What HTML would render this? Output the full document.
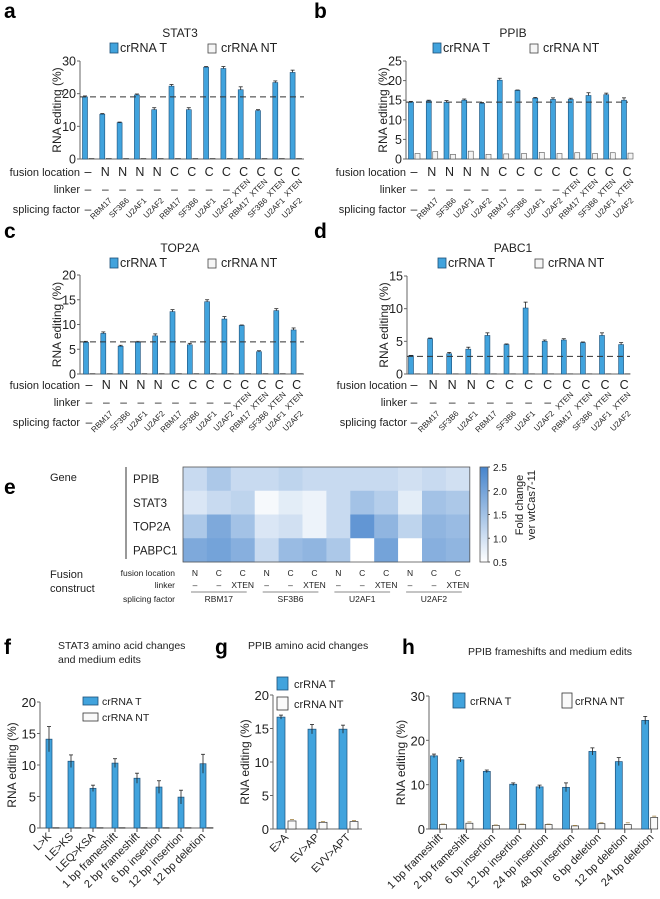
<!DOCTYPE html>
<html><head><meta charset="utf-8">
<style>
html,body{margin:0;padding:0;background:#fff;}
svg{display:block;font-family:"Liberation Sans",sans-serif;}
</style></head>
<body>
<svg id="fig" width="660" height="899" viewBox="0 0 660 899" xmlns="http://www.w3.org/2000/svg"></svg>
<script>
// ---------- data ----------
const fusion13 = ['–','N','N','N','N','C','C','C','C','C','C','C','C'];
const linker13 = ['–','–','–','–','–','–','–','–','–','XTEN','XTEN','XTEN','XTEN'];
const splice13 = ['–','RBM17','SF3B6','U2AF1','U2AF2','RBM17','SF3B6','U2AF1','U2AF2','RBM17','SF3B6','U2AF1','U2AF2'];
const fusion12 = ['–','N','N','N','C','C','C','C','C','C','C','C'];
const linker12 = ['–','–','–','–','–','–','–','–','XTEN','XTEN','XTEN','XTEN'];
const splice12 = ['–','RBM17','SF3B6','U2AF1','RBM17','SF3B6','U2AF1','U2AF2','RBM17','SF3B6','U2AF1','U2AF2'];

const stat3T  = [19,13.7,11.1,19.6,15.1,22.3,15.1,28.1,27.7,21.2,14.8,23.4,26.5];
const stat3NT = [0.2,0.2,0.2,0.2,0.2,0.2,0.2,0.2,0.2,0.2,0.2,0.2,0.2];
const stat3Err = [0.3,0.2,0.2,0.3,0.6,0.5,0.6,0.2,0.6,0.9,0.3,0.5,0.7];
const stat3Ticks = [0,10,20,30];
const stat3Ref = 19;

const ppibT  = [14.5,14.8,14.5,15,14.2,20.1,17.5,15.5,15.2,15.2,16.2,16.4,15];
const ppibNT = [1.4,1.9,1.2,2.0,1.2,1.3,1.4,1.7,1.4,1.6,1.4,1.6,1.5];
const ppibErr = [0.2,0.2,0.4,0.3,0.2,0.5,0.1,0.2,0.4,0.3,0.7,0.4,0.6];
const ppibTicks = [0,5,10,15,20,25];
const ppibRef = 14.5;

const top2aT  = [6.4,8.2,5.6,6.4,7.7,12.6,5.9,14.6,11.1,9.8,4.5,12.8,8.9];
const top2aNT = [0.1,0.1,0.1,0.1,0.1,0.1,0.1,0.1,0.1,0.1,0.1,0.1,0.1];
const top2aErr = [0.2,0.3,0.2,0.2,0.4,0.4,0.3,0.4,0.5,0.1,0.2,0.4,0.4];
const top2aTicks = [0,5,10,15,20];
const top2aRef = 6.5;

const pabc1T  = [2.8,5.4,3.1,3.8,5.9,4.5,10.1,5.0,5.2,4.8,5.9,4.5];
const pabc1NT = [0.05,0.05,0.05,0.05,0.05,0.05,0.05,0.05,0.05,0.05,0.05,0.05];
const pabc1Err = [0.05,0.1,0.2,0.3,0.4,0.1,0.9,0.2,0.2,0.1,0.4,0.3];
const pabc1Ticks = [0,5,10,15];
const pabc1Ref = 2.7;

const heatGenes = ['PPIB','STAT3','TOP2A','PABPC1'];
const heatLoc = ['N','C','C','N','C','C','N','C','C','N','C','C'];
const heatLinker = ['–','–','XTEN','–','–','XTEN','–','–','XTEN','–','–','XTEN'];
const heatGroups = ['RBM17','SF3B6','U2AF1','U2AF2'];
const heatPPIB   = [1.1,1.4,1.1,1.1,1.2,1.1,1.1,1.1,1.1,1.0,1.1,1.0];
const heatSTAT3  = [0.9,1.1,1.2,0.6,0.8,0.7,1.1,1.5,1.3,0.8,1.5,1.4];
const heatTOP2A  = [1.4,1.9,1.5,0.9,1.0,0.7,1.1,2.2,1.7,1.2,1.7,1.6];
const heatPABPC1 = [1.9,2.0,1.8,1.1,1.6,1.7,1.4,0.5,2.0,0.5,1.8,1.7];
const heatTicks = [0.5,1.0,1.5,2.0,2.5];

const fCats = ['L>K','LE>KS','LEQ>KSA','1 bp frameshift','2 bp frameshift','6 bp insertion','12 bp insertion','12 bp deletion'];
const fT  = [14.1,10.6,6.3,10.3,7.9,6.5,4.9,10.2];
const fNT = [0.05,0.05,0.05,0.05,0.05,0.05,0.05,0.05];
const fErr = [2.0,1.0,0.5,0.7,0.8,1.0,1.1,1.5];
const fTicks = [0,5,10,15,20];

const gCats = ['E>A','EV>AP','EVV>APT'];
const gT  = [16.7,14.9,14.9];
const gNT = [1.2,1.0,1.1];
const gErrT = [0.3,0.7,0.6];
const gErrNT = [0.2,0.1,0.15];
const gTicks = [0,5,10,15,20];

const hCats = ['1 bp frameshift','2 bp frameshift','6 bp insertion','12 bp insertion','24 bp insertion','48 bp insertion','6 bp deletion','12 bp deletion','24 bp deletion'];
const hT  = [16.5,15.6,13.0,10.1,9.5,9.4,17.5,15.2,24.5];
const hNT = [1.0,1.3,0.8,1.0,1.0,0.7,1.2,1.0,2.6];
const hErrT = [0.4,0.5,0.3,0.3,0.4,1.0,0.8,0.9,0.9];
const hErrNT = [0.1,0.3,0.1,0.1,0.1,0.1,0.2,0.4,0.3];
const hTicks = [0,10,20,30];

// ---------- helpers ----------
const NS = 'http://www.w3.org/2000/svg';
const svg = document.getElementById('fig');
const BLUE = '#41a3dd', BSTROKE = '#1d4f78';
function el(parent, tag, attrs, name) {
  const e = document.createElementNS(NS, tag);
  for (const k in attrs) e.setAttribute(k, attrs[k]);
  
  
  parent.appendChild(e);
  return e;
}
function txt(parent, x, y, s, size, name, extra) {
  const a = Object.assign({x: x, y: y, 'font-size': size, fill: '#222'}, extra || {});
  const t = el(parent, 'text', a, name);
  t.textContent = s;
  return t;
}
function grp(name) { return el(svg, 'g', {}, name); }

// ---------- panels a-d ----------
function barPanel(p) {
  const g = grp(p.name);
  const yS = v => p.yBot - (v / p.max) * (p.yBot - p.yTop);
  const xS = i => p.x0 + i * p.step;
  txt(g, p.lx, p.ly, p.letter, 21, 'panel-letter', {'font-weight': 'bold', fill: '#000'});
  txt(g, p.titleX, p.titleY, p.title, 12, 'chart-title', {'text-anchor': 'middle'});
  el(g, 'rect', {x: p.legX1, y: p.titleY + 6, width: 8, height: 10, fill: BLUE, stroke: BSTROKE, 'stroke-width': 0.8}, 'legend-swatch-t');
  txt(g, p.legX1 + 10, p.titleY + 15, 'crRNA T', 12.5, 'legend-label-t');
  el(g, 'rect', {x: p.legX2, y: p.titleY + 7, width: 8, height: 9, fill: '#f6f6f6', stroke: '#444', 'stroke-width': 0.8}, 'legend-swatch-nt');
  txt(g, p.legX2 + 13, p.titleY + 15, 'crRNA NT', 12.5, 'legend-label-nt');
  el(g, 'line', {x1: p.axisX, y1: p.yTop, x2: p.axisX, y2: p.yBot, stroke: '#666', 'stroke-width': 1}, 'y-axis');
  el(g, 'line', {x1: p.axisX, y1: p.yBot, x2: p.xEnd, y2: p.yBot, stroke: '#666', 'stroke-width': 1}, 'x-axis');
  p.ticks.forEach(v => {
    el(g, 'line', {x1: p.axisX - 3, y1: yS(v), x2: p.axisX, y2: yS(v), stroke: '#666'}, 'y-tick');
    txt(g, p.axisX - 4, yS(v) + 4.5, String(v), 12.5, 'y-tick-label', {'text-anchor': 'end'});
  });
  const midY = (p.yTop + p.yBot) / 2;
  txt(g, 0, 0, 'RNA editing (%)', 12, 'y-axis-title', {'text-anchor': 'middle', transform: `translate(${p.axisX - 19},${midY}) rotate(-90)`});
  p.T.forEach((v, i) => {
    const cx = xS(i);
    el(g, 'rect', {x: cx - 2.5, y: yS(v), width: 5, height: p.yBot - yS(v), fill: BLUE, stroke: BSTROKE, 'stroke-width': 0.6}, 'bar-crrna-t');
    el(g, 'line', {x1: cx, y1: yS(v + p.err[i]), x2: cx, y2: yS(v), stroke: '#222', 'stroke-width': 0.8}, 'error-bar');
    el(g, 'line', {x1: cx - 2, y1: yS(v + p.err[i]), x2: cx + 2, y2: yS(v + p.err[i]), stroke: '#222', 'stroke-width': 0.8}, 'error-cap');
    const nv = p.NT[i];
    el(g, 'rect', {x: cx + 4, y: yS(nv), width: 5, height: Math.max(0.5, p.yBot - yS(nv)), fill: '#f4f4f4', stroke: '#555', 'stroke-width': 0.6}, 'bar-crrna-nt');
  });
  el(g, 'line', {x1: p.axisX, y1: yS(p.ref), x2: p.xEnd, y2: yS(p.ref), stroke: '#333', 'stroke-width': 1, 'stroke-dasharray': '6,4'}, 'reference-dashed-line');
  const labX = p.axisX;
  txt(g, labX, p.r1, 'fusion location', 11, 'row-label-fusion-location', {'text-anchor': 'end'});
  txt(g, labX, p.r2, 'linker', 11, 'row-label-linker', {'text-anchor': 'end'});
  txt(g, labX, p.r3, 'splicing factor', 11, 'row-label-splicing-factor', {'text-anchor': 'end'});
  p.fusion.forEach((s, i) => {
    txt(g, xS(i) + 3, p.r1, s, 12.5, 'fusion-location-value', {'text-anchor': 'middle'});
  });
  p.linker.forEach((s, i) => {
    if (s === 'XTEN') txt(g, 0, 0, s, 8, 'linker-value', {'text-anchor': 'end', transform: `translate(${xS(i) + 10},${p.r2 - 11}) rotate(-45)`});
    else txt(g, xS(i) + 3, p.r2, s, 12, 'linker-value', {'text-anchor': 'middle'});
  });
  p.splice.forEach((s, i) => {
    if (s === '–') txt(g, xS(i) + 3, p.r3, s, 12, 'splicing-factor-value', {'text-anchor': 'middle'});
    else txt(g, 0, 0, s, 8, 'splicing-factor-value', {'text-anchor': 'end', transform: `translate(${xS(i) + 10},${p.r3 - 12}) rotate(-45)`});
  });
}

barPanel({name: 'panel-a-stat3', letter: 'a', lx: 4, ly: 18, title: 'STAT3', titleX: 180, titleY: 37, legX1: 110, legX2: 208,
  axisX: 80, yTop: 61, yBot: 159, max: 30, x0: 85, step: 17.3, xEnd: 304, ticks: stat3Ticks,
  T: stat3T, NT: stat3NT, err: stat3Err, ref: stat3Ref, r1: 176, r2: 193, r3: 213, fusion: fusion13, linker: linker13, splice: splice13});
barPanel({name: 'panel-b-ppib', letter: 'b', lx: 314, ly: 18, title: 'PPIB', titleX: 513, titleY: 37, legX1: 433, legX2: 530,
  axisX: 406, yTop: 61, yBot: 159, max: 25, x0: 411, step: 17.75, xEnd: 628, ticks: ppibTicks,
  T: ppibT, NT: ppibNT, err: ppibErr, ref: ppibRef, r1: 176, r2: 193, r3: 213, fusion: fusion13, linker: linker13, splice: splice13});
barPanel({name: 'panel-c-top2a', letter: 'c', lx: 4, ly: 238, title: 'TOP2A', titleX: 180, titleY: 252, legX1: 110, legX2: 208,
  axisX: 80, yTop: 275, yBot: 374, max: 20, x0: 86, step: 17.3, xEnd: 304, ticks: top2aTicks,
  T: top2aT, NT: top2aNT, err: top2aErr, ref: top2aRef, r1: 389, r2: 406, r3: 426, fusion: fusion13, linker: linker13, splice: splice13});
barPanel({name: 'panel-d-pabc1', letter: 'd', lx: 314, ly: 238, title: 'PABC1', titleX: 513, titleY: 252, legX1: 438, legX2: 535,
  axisX: 407, yTop: 276, yBot: 374, max: 15, x0: 411, step: 19.1, xEnd: 630, ticks: pabc1Ticks,
  T: pabc1T, NT: pabc1NT, err: pabc1Err, ref: pabc1Ref, r1: 389, r2: 406, r3: 426, fusion: fusion12, linker: linker12, splice: splice12});

// ---------- panel e heatmap ----------
(function () {
  const g = grp('panel-e-heatmap');
  const hx0 = 183, hy0 = 467, cw = 23.9, rh = 23.75;
  const rows = [heatPPIB, heatSTAT3, heatTOP2A, heatPABPC1];
  const col = v => {
    const t = Math.max(0, Math.min(1, (v - 0.5) / 2));
    const r = Math.round(255 - t * (255 - 70)), gg = Math.round(255 - t * (255 - 132)), b = Math.round(255 - t * (255 - 204));
    return `rgb(${r},${gg},${b})`;
  };
  txt(g, 4, 494, 'e', 21, 'panel-letter', {'font-weight': 'bold', fill: '#000'});
  txt(g, 50, 481, 'Gene', 11, 'gene-heading');
  el(g, 'line', {x1: 126, y1: 467, x2: 126, y2: 559, stroke: '#333', 'stroke-width': 1}, 'gene-divider');
  rows.forEach((vals, r) => {
    txt(g, 133, hy0 + r * rh + 16, heatGenes[r], 11.5, 'gene-label');
    vals.forEach((v, c) => {
      el(g, 'rect', {x: hx0 + c * cw, y: hy0 + r * rh, width: cw + 0.3, height: rh + 0.3, fill: col(v)}, 'heatmap-cell');
    });
  });
  el(g, 'rect', {x: hx0, y: hy0, width: 12 * cw, height: 4 * rh, fill: 'none', stroke: '#555', 'stroke-width': 0.8}, 'heatmap-border');
  // colorbar
  const defs = el(g, 'defs', {}, 'defs');
  const lg = el(defs, 'linearGradient', {id: 'cb', x1: 0, y1: 0, x2: 0, y2: 1}, 'colorbar-gradient');
  el(lg, 'stop', {offset: '0', 'stop-color': col(2.5)}, 'gradient-stop');
  el(lg, 'stop', {offset: '1', 'stop-color': col(0.5)}, 'gradient-stop');
  el(g, 'rect', {x: 480, y: hy0, width: 8, height: 4 * rh, fill: 'url(#cb)', stroke: '#555', 'stroke-width': 0.8}, 'colorbar');
  heatTicks.forEach(v => {
    const y = hy0 + 4 * rh - (v - 0.5) / 2 * 4 * rh;
    el(g, 'line', {x1: 488, y1: y, x2: 490, y2: y, stroke: '#555'}, 'colorbar-tick');
    txt(g, 493, y + 4, v.toFixed(1), 10, 'colorbar-tick-label');
  });
  txt(g, 0, 0, 'Fold change', 11, 'colorbar-title', {'text-anchor': 'middle', transform: 'translate(523,505) rotate(-90)'});
  txt(g, 0, 0, 'ver wtCas7-11', 11, 'colorbar-title-2', {'text-anchor': 'middle', transform: 'translate(535,505) rotate(-90)'});
  txt(g, 50, 578, 'Fusion', 11, 'fusion-construct-heading');
  txt(g, 50, 592, 'construct', 11, 'fusion-construct-heading-2');
  txt(g, 175, 576, 'fusion location', 8.5, 'row-label-fusion-location', {'text-anchor': 'end'});
  txt(g, 175, 588, 'linker', 8.5, 'row-label-linker', {'text-anchor': 'end'});
  txt(g, 175, 602, 'splicing factor', 8.5, 'row-label-splicing-factor', {'text-anchor': 'end'});
  heatLoc.forEach((s, c) => txt(g, hx0 + (c + 0.5) * cw, 576, s, 8.5, 'fusion-location-value', {'text-anchor': 'middle'}));
  heatLinker.forEach((s, c) => txt(g, hx0 + (c + 0.5) * cw, 588, s, 8.5, 'linker-value', {'text-anchor': 'middle'}));
  heatGroups.forEach((s, k) => {
    const x1 = hx0 + k * 3 * cw + 8, x2 = hx0 + (k + 1) * 3 * cw - 8;
    el(g, 'line', {x1: x1, y1: 592, x2: x2, y2: 592, stroke: '#888', 'stroke-width': 1}, 'group-underline');
    txt(g, (x1 + x2) / 2, 602, s, 8.5, 'splicing-group-label', {'text-anchor': 'middle'});
  });
})();

// ---------- panels f, g, h ----------
function lowerPanel(p) {
  const g = grp(p.name);
  const yS = v => p.yBot - (v / p.max) * (p.yBot - p.yTop);
  const xS = i => p.x0 + i * p.step;
  txt(g, p.lx, 654, p.letter, 21, 'panel-letter', {'font-weight': 'bold', fill: '#000'});
  p.title.forEach((t, k) => txt(g, p.titleX, p.titleY + k * 14, t, 10.5, 'chart-title', {'text-anchor': p.titleAnchor || 'start'}));
  el(g, 'line', {x1: p.axisX, y1: p.yTop, x2: p.axisX, y2: p.yBot, stroke: '#666'}, 'y-axis');
  el(g, 'line', {x1: p.axisX, y1: p.yBot, x2: p.xEnd, y2: p.yBot, stroke: '#666'}, 'x-axis');
  p.ticks.forEach(v => {
    el(g, 'line', {x1: p.axisX - 3, y1: yS(v), x2: p.axisX, y2: yS(v), stroke: '#666'}, 'y-tick');
    txt(g, p.axisX - 4, yS(v) + 5, String(v), 13, 'y-tick-label', {'text-anchor': 'end'});
  });
  txt(g, 0, 0, 'RNA editing (%)', 12, 'y-axis-title', {'text-anchor': 'middle', transform: `translate(${p.axisX - 24},${(p.yTop + p.yBot) / 2}) rotate(-90)`});
  p.T.forEach((v, i) => {
    const cx = xS(i);
    el(g, 'rect', {x: cx - p.bw / 2, y: yS(v), width: p.bw, height: p.yBot - yS(v), fill: BLUE, stroke: BSTROKE, 'stroke-width': 0.7}, 'bar-crrna-t');
    const e = p.errT[i];
    el(g, 'line', {x1: cx, y1: yS(v + e), x2: cx, y2: yS(Math.max(0, v - e)), stroke: '#222', 'stroke-width': 0.8}, 'error-bar');
    el(g, 'line', {x1: cx - 2, y1: yS(v + e), x2: cx + 2, y2: yS(v + e), stroke: '#222', 'stroke-width': 0.8}, 'error-cap');
    const nv = p.NT[i], nx = cx + p.ntOff;
    el(g, 'rect', {x: nx - p.bw / 2, y: yS(nv), width: p.bw, height: Math.max(0.5, p.yBot - yS(nv)), fill: '#fafafa', stroke: '#333', 'stroke-width': 0.7}, 'bar-crrna-nt');
    if (p.errNT) {
      el(g, 'line', {x1: nx - 2, y1: yS(nv + p.errNT[i]), x2: nx + 2, y2: yS(nv + p.errNT[i]), stroke: '#a08040', 'stroke-width': 0.8}, 'error-cap-nt');
    }
    const tx = cx + p.tickOff;
    el(g, 'line', {x1: tx, y1: p.yBot, x2: tx, y2: p.yBot + 4, stroke: '#444'}, 'x-tick');
    txt(g, 0, 0, p.cats[i], p.catSize, 'x-tick-label', {'text-anchor': 'end', transform: `translate(${tx + 3},${p.yBot + 9}) rotate(-45)`});
  });
  el(g, 'rect', Object.assign({fill: BLUE, stroke: BSTROKE, 'stroke-width': 0.8}, p.legT), 'legend-swatch-t');
  txt(g, p.legTText[0], p.legTText[1], 'crRNA T', p.legSize, 'legend-label-t');
  el(g, 'rect', Object.assign({fill: '#fafafa', stroke: '#333', 'stroke-width': 0.8}, p.legNT), 'legend-swatch-nt');
  txt(g, p.legNTText[0], p.legNTText[1], 'crRNA NT', p.legSize, 'legend-label-nt');
}

lowerPanel({name: 'panel-f-stat3-edits', letter: 'f', lx: 4, title: ['STAT3 amino acid changes', 'and medium edits'], titleX: 58, titleY: 649,
  axisX: 40, yTop: 702, yBot: 828, max: 20, x0: 49, step: 22, xEnd: 213, ticks: fTicks, bw: 6, ntOff: 7, tickOff: 0, catSize: 11,
  T: fT, NT: fNT, errT: fErr, cats: fCats,
  legT: {x: 83, y: 697, width: 15, height: 8}, legTText: [102, 705], legNT: {x: 83, y: 713, width: 15, height: 8}, legNTText: [102, 721], legSize: 10.5});
lowerPanel({name: 'panel-g-ppib-aa', letter: 'g', lx: 215, title: ['PPIB amino acid changes'], titleX: 248, titleY: 649,
  axisX: 273, yTop: 695, yBot: 829, max: 20, x0: 281, step: 31, xEnd: 362, ticks: gTicks, bw: 8, ntOff: 11, tickOff: 5, catSize: 11,
  T: gT, NT: gNT, errT: gErrT, errNT: gErrNT, cats: gCats,
  legT: {x: 277, y: 677, width: 11, height: 13}, legTText: [294, 688], legNT: {x: 277, y: 697, width: 11, height: 13}, legNTText: [294, 708], legSize: 11});
lowerPanel({name: 'panel-h-ppib-frameshifts', letter: 'h', lx: 402, title: ['PPIB frameshifts and medium edits'], titleX: 468, titleY: 655,
  axisX: 429, yTop: 696, yBot: 829, max: 30, x0: 434, step: 26.4, xEnd: 652, ticks: hTicks, bw: 7, ntOff: 9, tickOff: 6, catSize: 11,
  T: hT, NT: hNT, errT: hErrT, errNT: hErrNT, cats: hCats,
  legT: {x: 453, y: 693, width: 12, height: 15}, legTText: [470, 705], legNT: {x: 562, y: 693, width: 10, height: 15}, legNTText: [575, 705], legSize: 11});
</script>
</body></html>
